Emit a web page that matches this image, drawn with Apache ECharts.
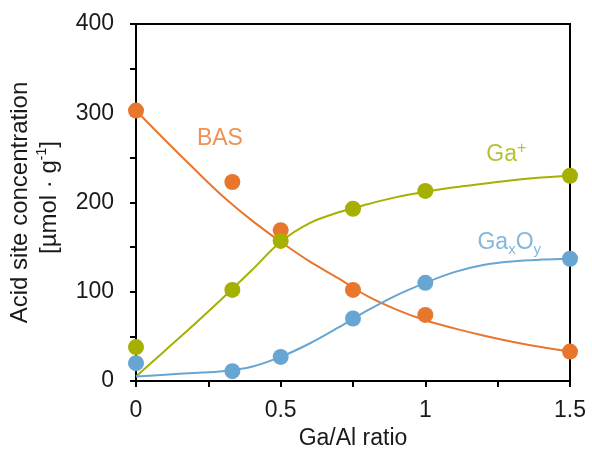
<!DOCTYPE html>
<html>
<head>
<meta charset="utf-8">
<script src="https://cdn.jsdelivr.net/npm/echarts@6/dist/echarts.min.js"></script>
<style>
  html, body { margin: 0; padding: 0; background: #fff; }
  #chart { width: 592px; height: 450px; }
</style>
</head>
<body>
<div id="chart"></div>
<script>
// measured points
const ratio = [0, 0.333, 0.5, 0.75, 1, 1.5];
const basPts = [303, 223, 169, 102, 74, 33];
const gaPts = [38, 102, 157, 193, 213, 230];
const gaxoyPts = [20, 11, 27, 70, 110, 137];

// fitted curves
const fitX = [0, 0.1, 0.2, 0.3, 0.4, 0.5, 0.6, 0.7, 0.8, 0.9, 1.0, 1.1, 1.2, 1.3, 1.4, 1.5];
const basFit = [303, 270, 238, 207, 180, 156, 134, 115, 95, 80, 68, 59, 51, 44, 38, 33];
const gaFit = [5, 34, 63, 93, 124, 156, 177, 189, 198, 206, 212, 217, 221, 225, 228, 230];
const gaxoyFit = [5, 7, 9, 11, 16, 27, 42, 60, 79, 96, 110, 122, 130, 134, 136, 137];

const xTicks = [0, 0.5, 1, 1.5];
const yTicks = [0, 100, 200, 300, 400];

const ORANGE = '#E8762D';
const OLIVE = '#A5B000';
const BLUE = '#67A5D2';
const FONT = '"Liberation Sans", Arial, sans-serif';
const TXT = '#1a1a1a';

const pairs = (xs, ys) => xs.map((x, i) => [x, ys[i]]);

const chart = echarts.init(document.getElementById('chart'));

const lineSeries = (name, ys, color) => ({
  name: name, type: 'line', data: pairs(fitX, ys), smooth: 0.35,
  showSymbol: false, lineStyle: { color: color, width: 2 }, z: 2
});
const dotSeries = (name, ys, color) => ({
  name: name, type: 'scatter', data: pairs(ratio, ys), symbolSize: 16,
  itemStyle: { color: color, opacity: 1 }, z: 3
});
const tagSeries = (x, y, text, color) => ({
  type: 'scatter', data: [[x, y]], symbolSize: 0, silent: true, z: 4,
  label: {
    show: true, position: 'inside', formatter: text, color: color,
    fontFamily: FONT, fontSize: 23,
    rich: {
      m: { fontSize: 23, color: color, fontFamily: FONT, lineHeight: 28 },
      sup: { fontSize: 16, color: color, fontFamily: FONT, verticalAlign: 'top', lineHeight: 28 },
      sub: { fontSize: 15, color: color, fontFamily: FONT, verticalAlign: 'bottom', lineHeight: 30 }
    }
  }
});

chart.setOption({
  animation: false,
  grid: {
    left: 136, right: 22, top: 24, bottom: 69, outerBoundsMode: 'none', containLabel: false,
    show: true, borderColor: '#000', borderWidth: 2
  },
  xAxis: {
    type: 'value', min: 0, max: 1.5, interval: 0.5,
    name: 'Ga/Al ratio', nameLocation: 'middle', nameGap: 46,
    nameTextStyle: { fontFamily: FONT, fontSize: 23, color: TXT },
    axisLine: { onZero: false, lineStyle: { color: '#000', width: 2 } },
    axisTick: { show: true, inside: false, length: 6, lineStyle: { color: '#000', width: 2 } },
    minorTick: { show: true, splitNumber: 2, length: 6, lineStyle: { color: '#000', width: 2 } },
    axisLabel: { fontFamily: FONT, fontSize: 23, color: TXT, margin: 18,
      formatter: v => (xTicks.indexOf(v) >= 0 ? String(v) : '') },
    splitLine: { show: false }
  },
  yAxis: {
    type: 'value', min: 0, max: 400, interval: 100,
    name: '{a|Acid site concentration}\n{b|[µmol · g}{s|-1}{a|]}',
    nameLocation: 'middle', nameGap: 72, nameRotate: 90,
    nameTextStyle: {
      fontFamily: FONT, fontSize: 24, color: TXT, align: 'center',
      rich: {
        a: { fontFamily: FONT, fontSize: 24, color: TXT, lineHeight: 29 },
        b: { fontFamily: FONT, fontSize: 24, color: TXT, lineHeight: 29, padding: [0, 0, 0, 10] },
        s: { fontFamily: FONT, fontSize: 14, color: TXT, verticalAlign: 'top', lineHeight: 29 }
      }
    },
    axisLine: { lineStyle: { color: '#000', width: 2 } },
    axisTick: { show: true, inside: false, length: 6, lineStyle: { color: '#000', width: 2 } },
    minorTick: { show: true, splitNumber: 2, length: 6, lineStyle: { color: '#000', width: 2 } },
    axisLabel: { fontFamily: FONT, fontSize: 23, color: TXT, margin: 22,
      formatter: v => (yTicks.indexOf(v) >= 0 ? String(v) : '') },
    splitLine: { show: false }
  },
  series: [
    lineSeries('BAS fit', basFit, ORANGE),
    lineSeries('Ga+ fit', gaFit, OLIVE),
    lineSeries('GaxOy fit', gaxoyFit, BLUE),
    dotSeries('BAS', basPts, ORANGE),
    dotSeries('Ga+', gaPts, OLIVE),
    dotSeries('GaxOy', gaxoyPts, BLUE),
    tagSeries(0.29, 271, 'BAS', ORANGE),
    tagSeries(1.28, 254, '{m|Ga}{sup|+}', OLIVE),
    tagSeries(1.29, 155, '{m|Ga}{sub|x}{m|O}{sub|y}', BLUE)
  ]
});
</script>
</body>
</html>
